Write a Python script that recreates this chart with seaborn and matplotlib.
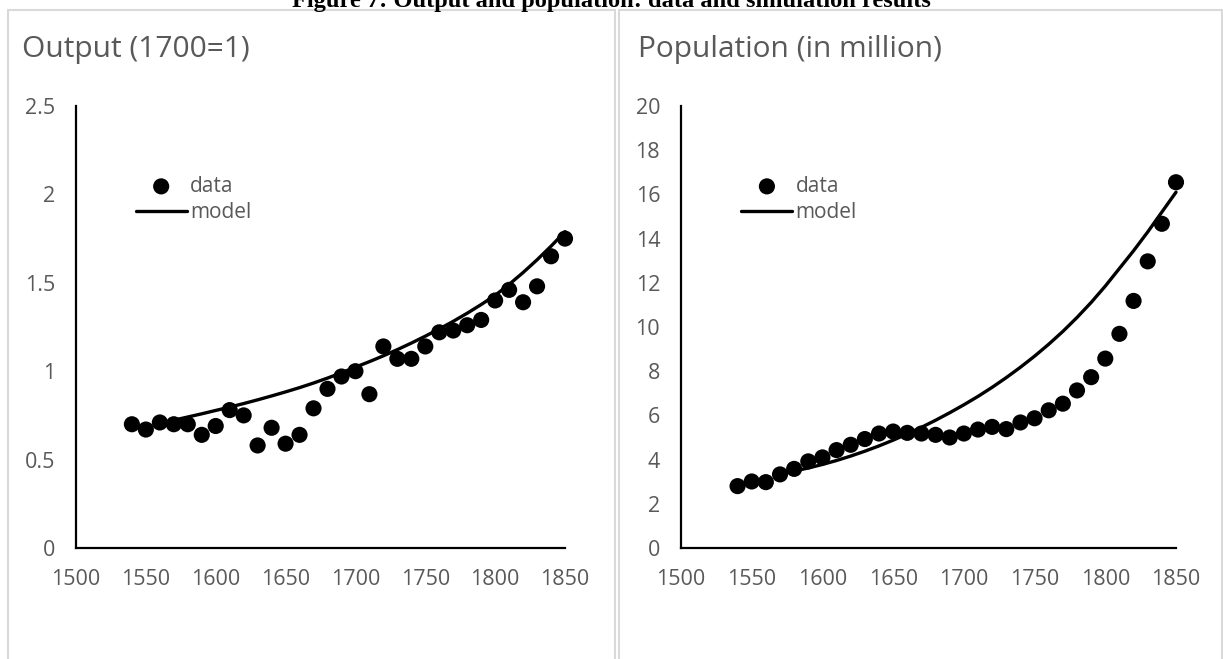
"""
Figure 7: output and population, data vs model (two panels).
"""
import pandas as pd
import matplotlib
matplotlib.use('Agg')
import matplotlib.pyplot as plt
import matplotlib.patches as mpatches
import seaborn as sns

YEARS = list(range(1540, 1851, 10))

OUTPUT_DATA = [0.70, 0.67, 0.71, 0.70, 0.70, 0.64, 0.69, 0.78, 0.75, 0.58,
               0.68, 0.59, 0.64, 0.79, 0.90, 0.97, 1.00, 0.87, 1.14, 1.07,
               1.07, 1.14, 1.22, 1.23, 1.26, 1.29, 1.40, 1.46, 1.39, 1.48,
               1.65, 1.75]
OUTPUT_MODEL_YEARS = list(range(1570, 1851, 10))
OUTPUT_MODEL = [0.723, 0.741, 0.759, 0.778, 0.797, 0.817, 0.838, 0.860, 0.883,
                0.907, 0.933, 0.961, 0.991, 1.023, 1.054, 1.087, 1.122, 1.159,
                1.198, 1.239, 1.282, 1.328, 1.377, 1.429, 1.491, 1.558, 1.630,
                1.707, 1.789]

POP_DATA = [2.80, 3.01, 2.98, 3.33, 3.58, 3.92, 4.10, 4.43, 4.67, 4.93,
            5.18, 5.27, 5.21, 5.18, 5.12, 5.00, 5.18, 5.36, 5.48, 5.38,
            5.68, 5.87, 6.23, 6.53, 7.13, 7.73, 8.57, 9.69, 11.18, 12.97,
            14.67, 16.55]
POP_MODEL_YEARS = list(range(1580, 1851, 10))
POP_MODEL = [3.48, 3.62, 3.78, 3.96, 4.16, 4.38, 4.62, 4.88, 5.16, 5.46,
             5.78, 6.12, 6.48, 6.86, 7.27, 7.71, 8.18, 8.68, 9.22, 9.80,
             10.43, 11.11, 11.85, 12.65, 13.45, 14.30, 15.20, 16.10]

XTICKS = [1500, 1550, 1600, 1650, 1700, 1750, 1800, 1850]
OUTPUT_YTICKS = [0, 0.5, 1, 1.5, 2, 2.5]
OUTPUT_YLABELS = ['0', '0.5', '1', '1.5', '2', '2.5']
POP_YTICKS = list(range(0, 21, 2))

GRAY = '#595959'
BORDER = '#d9d9d9'

sns.set_theme(style='white')
plt.rcParams['font.family'] = ['Open Sans', 'DejaVu Sans']

W, H = 1223, 659
fig = plt.figure(figsize=(W / 100, H / 100), dpi=100)


def px_box(x0, x1, y_top, y_bot):
    return [x0 / W, 1 - y_bot / H, (x1 - x0) / W, (y_bot - y_top) / H]


def draw_panel(ax, years, data, model_years, model, ylim, yticks, ylabels):
    df_data = pd.DataFrame({'year': years, 'value': data})
    df_model = pd.DataFrame({'year': model_years, 'value': model})
    sns.scatterplot(data=df_data, x='year', y='value', ax=ax, color='black',
                    s=135, edgecolor='none', label='data', zorder=3, clip_on=False)
    sns.lineplot(data=df_model, x='year', y='value', ax=ax, color='black',
                 linewidth=2.4, label='model', zorder=2, clip_on=False)
    ax.set_xlim(1500, 1850)
    ax.set_ylim(*ylim)
    ax.set_xticks(XTICKS)
    ax.set_yticks(yticks)
    ax.set_yticklabels(ylabels)
    ax.set_xlabel('')
    ax.set_ylabel('')
    ax.tick_params(axis='both', length=0, labelsize=15.5, labelcolor=GRAY, pad=15)
    for side in ['top', 'right']:
        ax.spines[side].set_visible(False)
    for side in ['left', 'bottom']:
        ax.spines[side].set_color('black')
        ax.spines[side].set_linewidth(1.6)
    ax.patch.set_alpha(0)
    leg = ax.legend(loc='upper left', bbox_to_anchor=(0.122, 0.842), frameon=False,
                    fontsize=15, labelcolor=GRAY, borderpad=0, borderaxespad=0,
                    handlelength=2.45, handletextpad=0.15, labelspacing=0.27)
    return leg


# panel borders
fig.add_artist(mpatches.Rectangle((8 / W, -0.05), (615 - 8) / W, 1.05 - 10 / H,
                                  transform=fig.transFigure, fill=False,
                                  edgecolor=BORDER, linewidth=1.5))
fig.add_artist(mpatches.Rectangle((619 / W, -0.05), (1222 - 619) / W, 1.05 - 10 / H,
                                  transform=fig.transFigure, fill=False,
                                  edgecolor=BORDER, linewidth=1.5))

ax1 = fig.add_axes(px_box(76, 565, 106, 548))
draw_panel(ax1, YEARS, OUTPUT_DATA, OUTPUT_MODEL_YEARS, OUTPUT_MODEL,
           (0, 2.5), OUTPUT_YTICKS, OUTPUT_YLABELS)

ax2 = fig.add_axes(px_box(681, 1176, 106, 548))
draw_panel(ax2, YEARS, POP_DATA, POP_MODEL_YEARS, POP_MODEL,
           (0, 20), POP_YTICKS, [str(t) for t in POP_YTICKS])

fig.text(22 / W, 1 - 49 / H, 'Output (1700=1)', fontsize=21.5, color=GRAY,
         ha='left', va='center')
fig.text(638 / W, 1 - 49 / H, 'Population (in million)', fontsize=21.5, color=GRAY,
         ha='left', va='center')

# figure caption, cut off at the top edge as in the source page
fig.text(0.5, 1 - 7 / H, 'Figure 7: Output and population: data and simulation results',
         fontsize=17.6, fontweight='bold', family='Liberation Serif',
         ha='center', va='baseline', color='black')

fig.savefig('out.png', dpi=100)
